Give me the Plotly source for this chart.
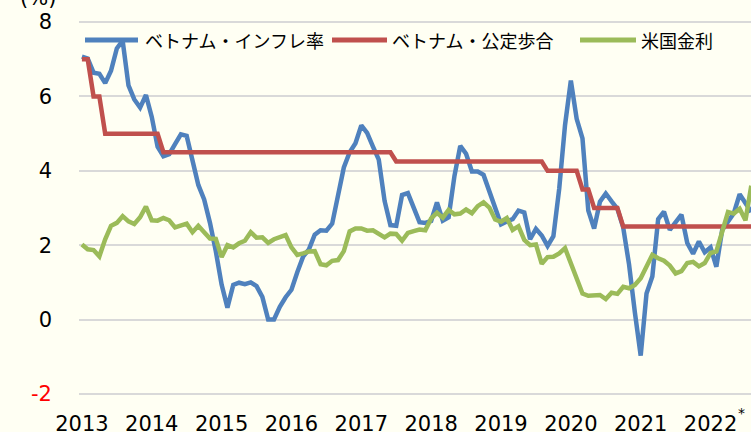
import plotly.graph_objects as go

# Months Jan 2013 .. Aug 2022
years = ["2013", "2014", "2015", "2016", "2017", "2018", "2019", "2020", "2021", "2022"]
months = [f"{y}-{m:02d}" for y in years for m in range(1, 13)][:116]

# Vietnam CPI inflation (% y/y)
vn_inflation = [
    7.07, 7.02, 6.64, 6.61, 6.36, 6.69, 7.29, 7.50, 6.30, 5.92, 5.70, 6.04,
    5.45, 4.65, 4.39, 4.45, 4.72, 4.98, 4.94, 4.31, 3.62, 3.23, 2.60, 1.84,
    0.94, 0.32, 0.93, 0.99, 0.95, 1.00, 0.90, 0.61, 0.00, 0.00, 0.34, 0.60,
    0.80, 1.27, 1.69, 1.89, 2.28, 2.40, 2.39, 2.58, 3.34, 4.09, 4.50, 4.74,
    5.22, 5.02, 4.65, 4.30, 3.19, 2.54, 2.52, 3.35, 3.40, 2.98, 2.62, 2.60,
    2.65, 3.15, 2.66, 2.75, 3.86, 4.67, 4.46, 3.98, 3.98, 3.89, 3.46, 2.98,
    2.56, 2.64, 2.70, 2.93, 2.88, 2.16, 2.44, 2.26, 1.98, 2.24, 3.52, 5.23,
    6.43, 5.40, 4.87, 2.93, 2.45, 3.17, 3.39, 3.18, 2.98, 2.47, 1.48, 0.19,
    -0.97, 0.70, 1.16, 2.70, 2.90, 2.41, 2.64, 2.82, 2.06, 1.77, 2.10, 1.81,
    1.94, 1.42, 2.41, 2.64, 2.86, 3.37, 3.14, 2.89,
]

# Vietnam official discount rate (%)
vn_discount = [
    7.0, 7.0, 6.0, 6.0, 5.0, 5.0, 5.0, 5.0, 5.0, 5.0, 5.0, 5.0,
    5.0, 5.0, 4.5, 4.5, 4.5, 4.5, 4.5, 4.5, 4.5, 4.5, 4.5, 4.5,
    4.5, 4.5, 4.5, 4.5, 4.5, 4.5, 4.5, 4.5, 4.5, 4.5, 4.5, 4.5,
    4.5, 4.5, 4.5, 4.5, 4.5, 4.5, 4.5, 4.5, 4.5, 4.5, 4.5, 4.5,
    4.5, 4.5, 4.5, 4.5, 4.5, 4.5, 4.25, 4.25, 4.25, 4.25, 4.25, 4.25,
    4.25, 4.25, 4.25, 4.25, 4.25, 4.25, 4.25, 4.25, 4.25, 4.25, 4.25, 4.25,
    4.25, 4.25, 4.25, 4.25, 4.25, 4.25, 4.25, 4.25, 4.0, 4.0, 4.0, 4.0,
    4.0, 4.0, 3.5, 3.5, 3.0, 3.0, 3.0, 3.0, 3.0, 2.5, 2.5, 2.5,
    2.5, 2.5, 2.5, 2.5, 2.5, 2.5, 2.5, 2.5, 2.5, 2.5, 2.5, 2.5,
    2.5, 2.5, 2.5, 2.5, 2.5, 2.5, 2.5, 2.5,
]

# US interest rate (10-year yield, %)
us_rate = [
    2.02, 1.89, 1.87, 1.70, 2.16, 2.52, 2.60, 2.78, 2.64, 2.57, 2.75, 3.04,
    2.67, 2.66, 2.73, 2.67, 2.48, 2.53, 2.58, 2.35, 2.52, 2.35, 2.18, 2.17,
    1.68, 2.00, 1.94, 2.05, 2.12, 2.35, 2.20, 2.21, 2.06, 2.16, 2.21, 2.27,
    1.94, 1.74, 1.78, 1.83, 1.84, 1.49, 1.46, 1.58, 1.60, 1.84, 2.37, 2.45,
    2.45, 2.39, 2.40, 2.29, 2.21, 2.31, 2.30, 2.12, 2.33, 2.38, 2.42, 2.40,
    2.72, 2.87, 2.74, 2.95, 2.83, 2.85, 2.96, 2.86, 3.05, 3.15, 3.01, 2.69,
    2.63, 2.73, 2.41, 2.51, 2.14, 2.00, 2.02, 1.50, 1.68, 1.69, 1.78, 1.92,
    1.51, 1.13, 0.70, 0.64, 0.65, 0.66, 0.55, 0.72, 0.69, 0.88, 0.84, 0.93,
    1.11, 1.44, 1.74, 1.65, 1.58, 1.45, 1.24, 1.30, 1.52, 1.55, 1.43, 1.52,
    1.79, 1.83, 2.32, 2.89, 2.85, 2.98, 2.67, 3.60,
]

series_names = ["ベトナム・インフレ率", "ベトナム・公定歩合", "米国金利"]
series_colors = ["#4F81BD", "#C0504D", "#9BBB59"]
series_values = [vn_inflation, vn_discount, us_rate]

y_ticks = [-2, 0, 2, 4, 6, 8]
y_ticktext = ['<span style="color:#FF0000">-2</span>', "0", "2", "4", "6", "8"]
x_tickvals = [f"{y}-01" for y in years]
x_ticktext = years

BG = "#FFFFF3"
fig = go.Figure()
for name, color, vals in zip(series_names, series_colors, series_values):
    fig.add_trace(go.Scatter(
        x=months, y=vals, mode="lines", name=name,
        line=dict(color=color, width=4.5), showlegend=False,
    ))

# custom legend (line samples + labels) in paper coordinates
W0, PW = 79, 672
T0, PH = 21, 374
def px(x):
    return (x - W0) / PW
def py(y):
    return (T0 + PH - y) / PH

legend_pos = [(85, 138, 143), (332, 387, 390), (580, 636, 639)]
shapes = []
annotations = []
for (x0, x1, xt), name, color in zip(legend_pos, series_names, series_colors):
    shapes.append(dict(type="line", xref="paper", yref="paper",
                       x0=px(x0), x1=px(x1), y0=py(40), y1=py(40),
                       line=dict(color=color, width=5)))
    annotations.append(dict(xref="paper", yref="paper", x=px(xt), y=py(40),
                            xanchor="left", yanchor="middle", text=name,
                            showarrow=False,
                            font=dict(family="Noto Sans CJK JP", size=18, color="#000000")))

annotations.append(dict(xref="paper", yref="paper", x=px(38), y=py(-2),
                        xanchor="center", yanchor="middle", text="(%)",
                        showarrow=False,
                        font=dict(family="DejaVu Sans", size=21, color="#000000")))
annotations.append(dict(xref="paper", yref="paper", x=px(741), y=py(413),
                        xanchor="center", yanchor="middle", text="*",
                        showarrow=False,
                        font=dict(family="DejaVu Sans", size=14, color="#000000")))

fig.update_layout(
    width=751, height=432,
    margin=dict(l=79, r=0, t=21, b=432 - 21 - 374, pad=0),
    paper_bgcolor=BG, plot_bgcolor=BG,
    font=dict(family="DejaVu Sans", size=21, color="#000000"),
    shapes=shapes, annotations=annotations,
    xaxis=dict(type="category", categoryorder="array", categoryarray=months,
               range=[-0.5, 114.95], tickmode="array", tickvals=x_tickvals,
               ticktext=x_ticktext, showgrid=False, zeroline=False,
               showline=False, ticks="", ticklabelstandoff=14,
               tickfont=dict(family="DejaVu Sans", size=21), automargin=False),
    yaxis=dict(range=[-2.03, 8.03], tickmode="array", tickvals=y_ticks,
               ticktext=y_ticktext, showgrid=True, gridcolor="#D9D9D9",
               gridwidth=1.5, zeroline=False, showline=False, ticks="",
               ticklabelstandoff=26, tickfont=dict(family="DejaVu Sans", size=21),
               automargin=False),
)

fig.write_html("out.html", config={"displayModeBar": False},
               post_script="document.body.style.margin='0';document.body.style.overflow='hidden';")
